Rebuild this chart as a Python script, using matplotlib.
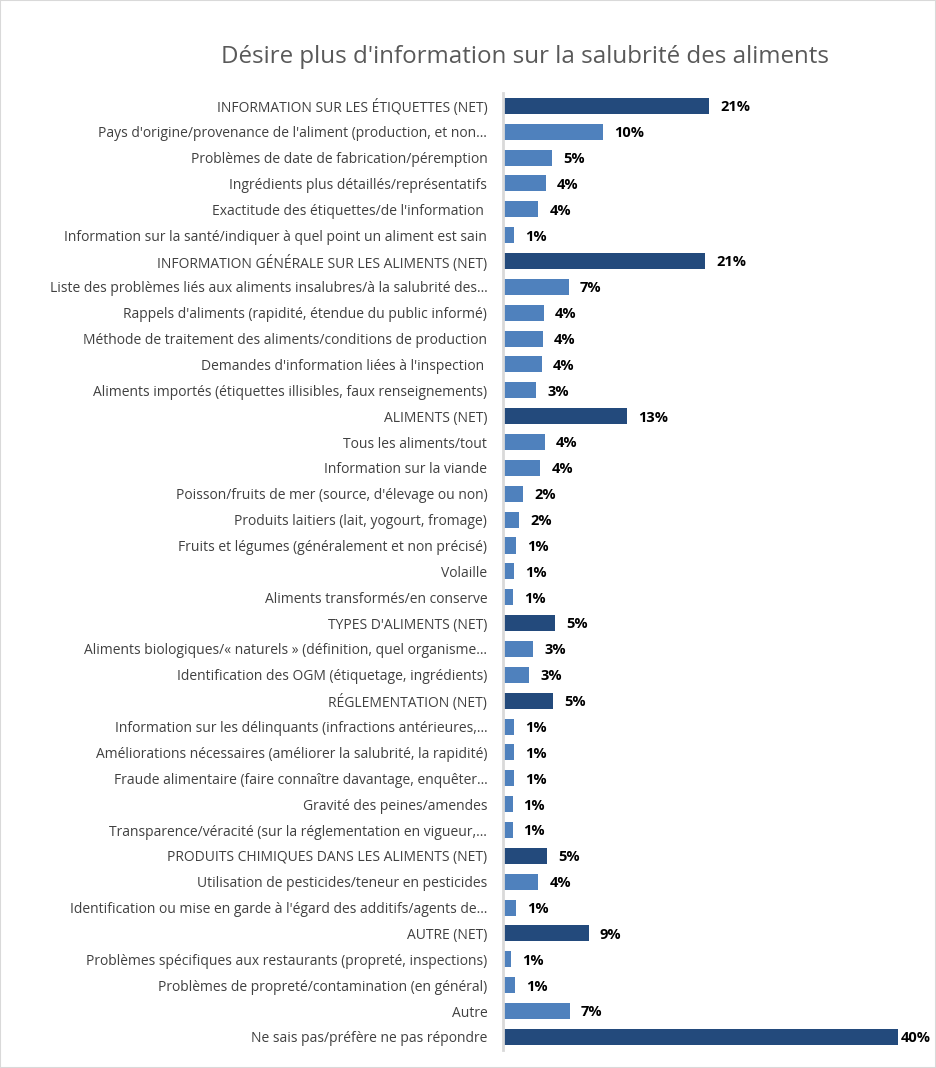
import numpy as np
import matplotlib.pyplot as plt
from matplotlib.patches import Rectangle

# categories, top to bottom
labels = [
    "INFORMATION SUR LES ÉTIQUETTES (NET)",
    "Pays d'origine/provenance de l'aliment (production, et non…",
    "Problèmes de date de fabrication/péremption",
    "Ingrédients plus détaillés/représentatifs",
    "Exactitude des étiquettes/de l'information ",
    "Information sur la santé/indiquer à quel point un aliment est sain",
    "INFORMATION GÉNÉRALE SUR LES ALIMENTS (NET)",
    "Liste des problèmes liés aux aliments insalubres/à la salubrité des…",
    "Rappels d'aliments (rapidité, étendue du public informé)",
    "Méthode de traitement des aliments/conditions de production",
    "Demandes d'information liées à l'inspection ",
    "Aliments importés (étiquettes illisibles, faux renseignements)",
    "ALIMENTS (NET)",
    "Tous les aliments/tout",
    "Information sur la viande",
    "Poisson/fruits de mer (source, d'élevage ou non)",
    "Produits laitiers (lait, yogourt, fromage)",
    "Fruits et légumes (généralement et non précisé)",
    "Volaille",
    "Aliments transformés/en conserve",
    "TYPES D'ALIMENTS (NET)",
    "Aliments biologiques/« naturels » (définition, quel organisme…",
    "Identification des OGM (étiquetage, ingrédients)",
    "RÉGLEMENTATION (NET)",
    "Information sur les délinquants (infractions antérieures,…",
    "Améliorations nécessaires (améliorer la salubrité, la rapidité)",
    "Fraude alimentaire (faire connaître davantage, enquêter…",
    "Gravité des peines/amendes",
    "Transparence/véracité (sur la réglementation en vigueur,…",
    "PRODUITS CHIMIQUES DANS LES ALIMENTS (NET)",
    "Utilisation de pesticides/teneur en pesticides",
    "Identification ou mise en garde à l'égard des additifs/agents de…",
    "AUTRE (NET)",
    "Problèmes spécifiques aux restaurants (propreté, inspections)",
    "Problèmes de propreté/contamination (en général)",
    "Autre",
    "Ne sais pas/préfère ne pas répondre",
]

# bar lengths (%)
values = [20.9, 10.2, 5.0, 4.4, 3.6, 1.2,
          20.5, 6.7, 4.2, 4.1, 4.0, 3.4,
          12.6, 4.3, 3.8, 2.1, 1.7, 1.4, 1.2, 1.1,
          5.3, 3.1, 2.7,
          5.1, 1.2, 1.2, 1.2, 1.0, 1.0,
          4.5, 3.6, 1.4,
          8.7, 0.8, 1.3, 6.8,
          40.0]

# printed labels
shown = [21, 10, 5, 4, 4, 1,
         21, 7, 4, 4, 4, 3,
         13, 4, 4, 2, 2, 1, 1, 1,
         5, 3, 3,
         5, 1, 1, 1, 1, 1,
         5, 4, 1,
         9, 1, 1, 7,
         40]

net_rows = [0, 6, 12, 20, 23, 29, 32, 36]

dark = "#234A7C"
light = "#4F81BD"
colors = [dark if i in net_rows else light for i in range(len(labels))]

fig = plt.figure(figsize=(9.36, 10.68), dpi=100)
fig.patches.append(Rectangle((0, 0), 1, 1, transform=fig.transFigure,
                             fill=False, edgecolor="#D9D9D9", linewidth=1.5))
ax = fig.add_axes([0.537, 0.017, 0.422, 0.896])

y = np.arange(len(labels))
ax.barh(y, values, height=0.62, color=colors)
ax.set_ylim(len(labels) - 0.5, -0.5)
ax.set_xlim(0, 40)

ax.set_yticks(y)
ax.set_yticklabels(labels, fontsize=10, color="#404040", family="Open Sans")
ax.tick_params(axis="y", length=0, pad=11)
ax.set_xticks([])
for s in ["top", "right", "bottom"]:
    ax.spines[s].set_visible(False)
ax.spines["left"].set_color("#D9D9D9")
ax.spines["left"].set_linewidth(2)

for yi, v, s in zip(y, values, shown):
    off = 2 if v >= 40 else 8
    ax.annotate(f"{s}%", (v, yi), xytext=(off, -1), textcoords="offset points",
                va="center", ha="left", fontsize=10.5, fontweight="bold",
                color="black", family="Open Sans", annotation_clip=False)

fig.text(0.561, 0.947, "Désire plus d'information sur la salubrité des aliments",
         ha="center", va="center", fontsize=17.4, color="#595959", family="Open Sans")

fig.savefig("out.png", dpi=100)
